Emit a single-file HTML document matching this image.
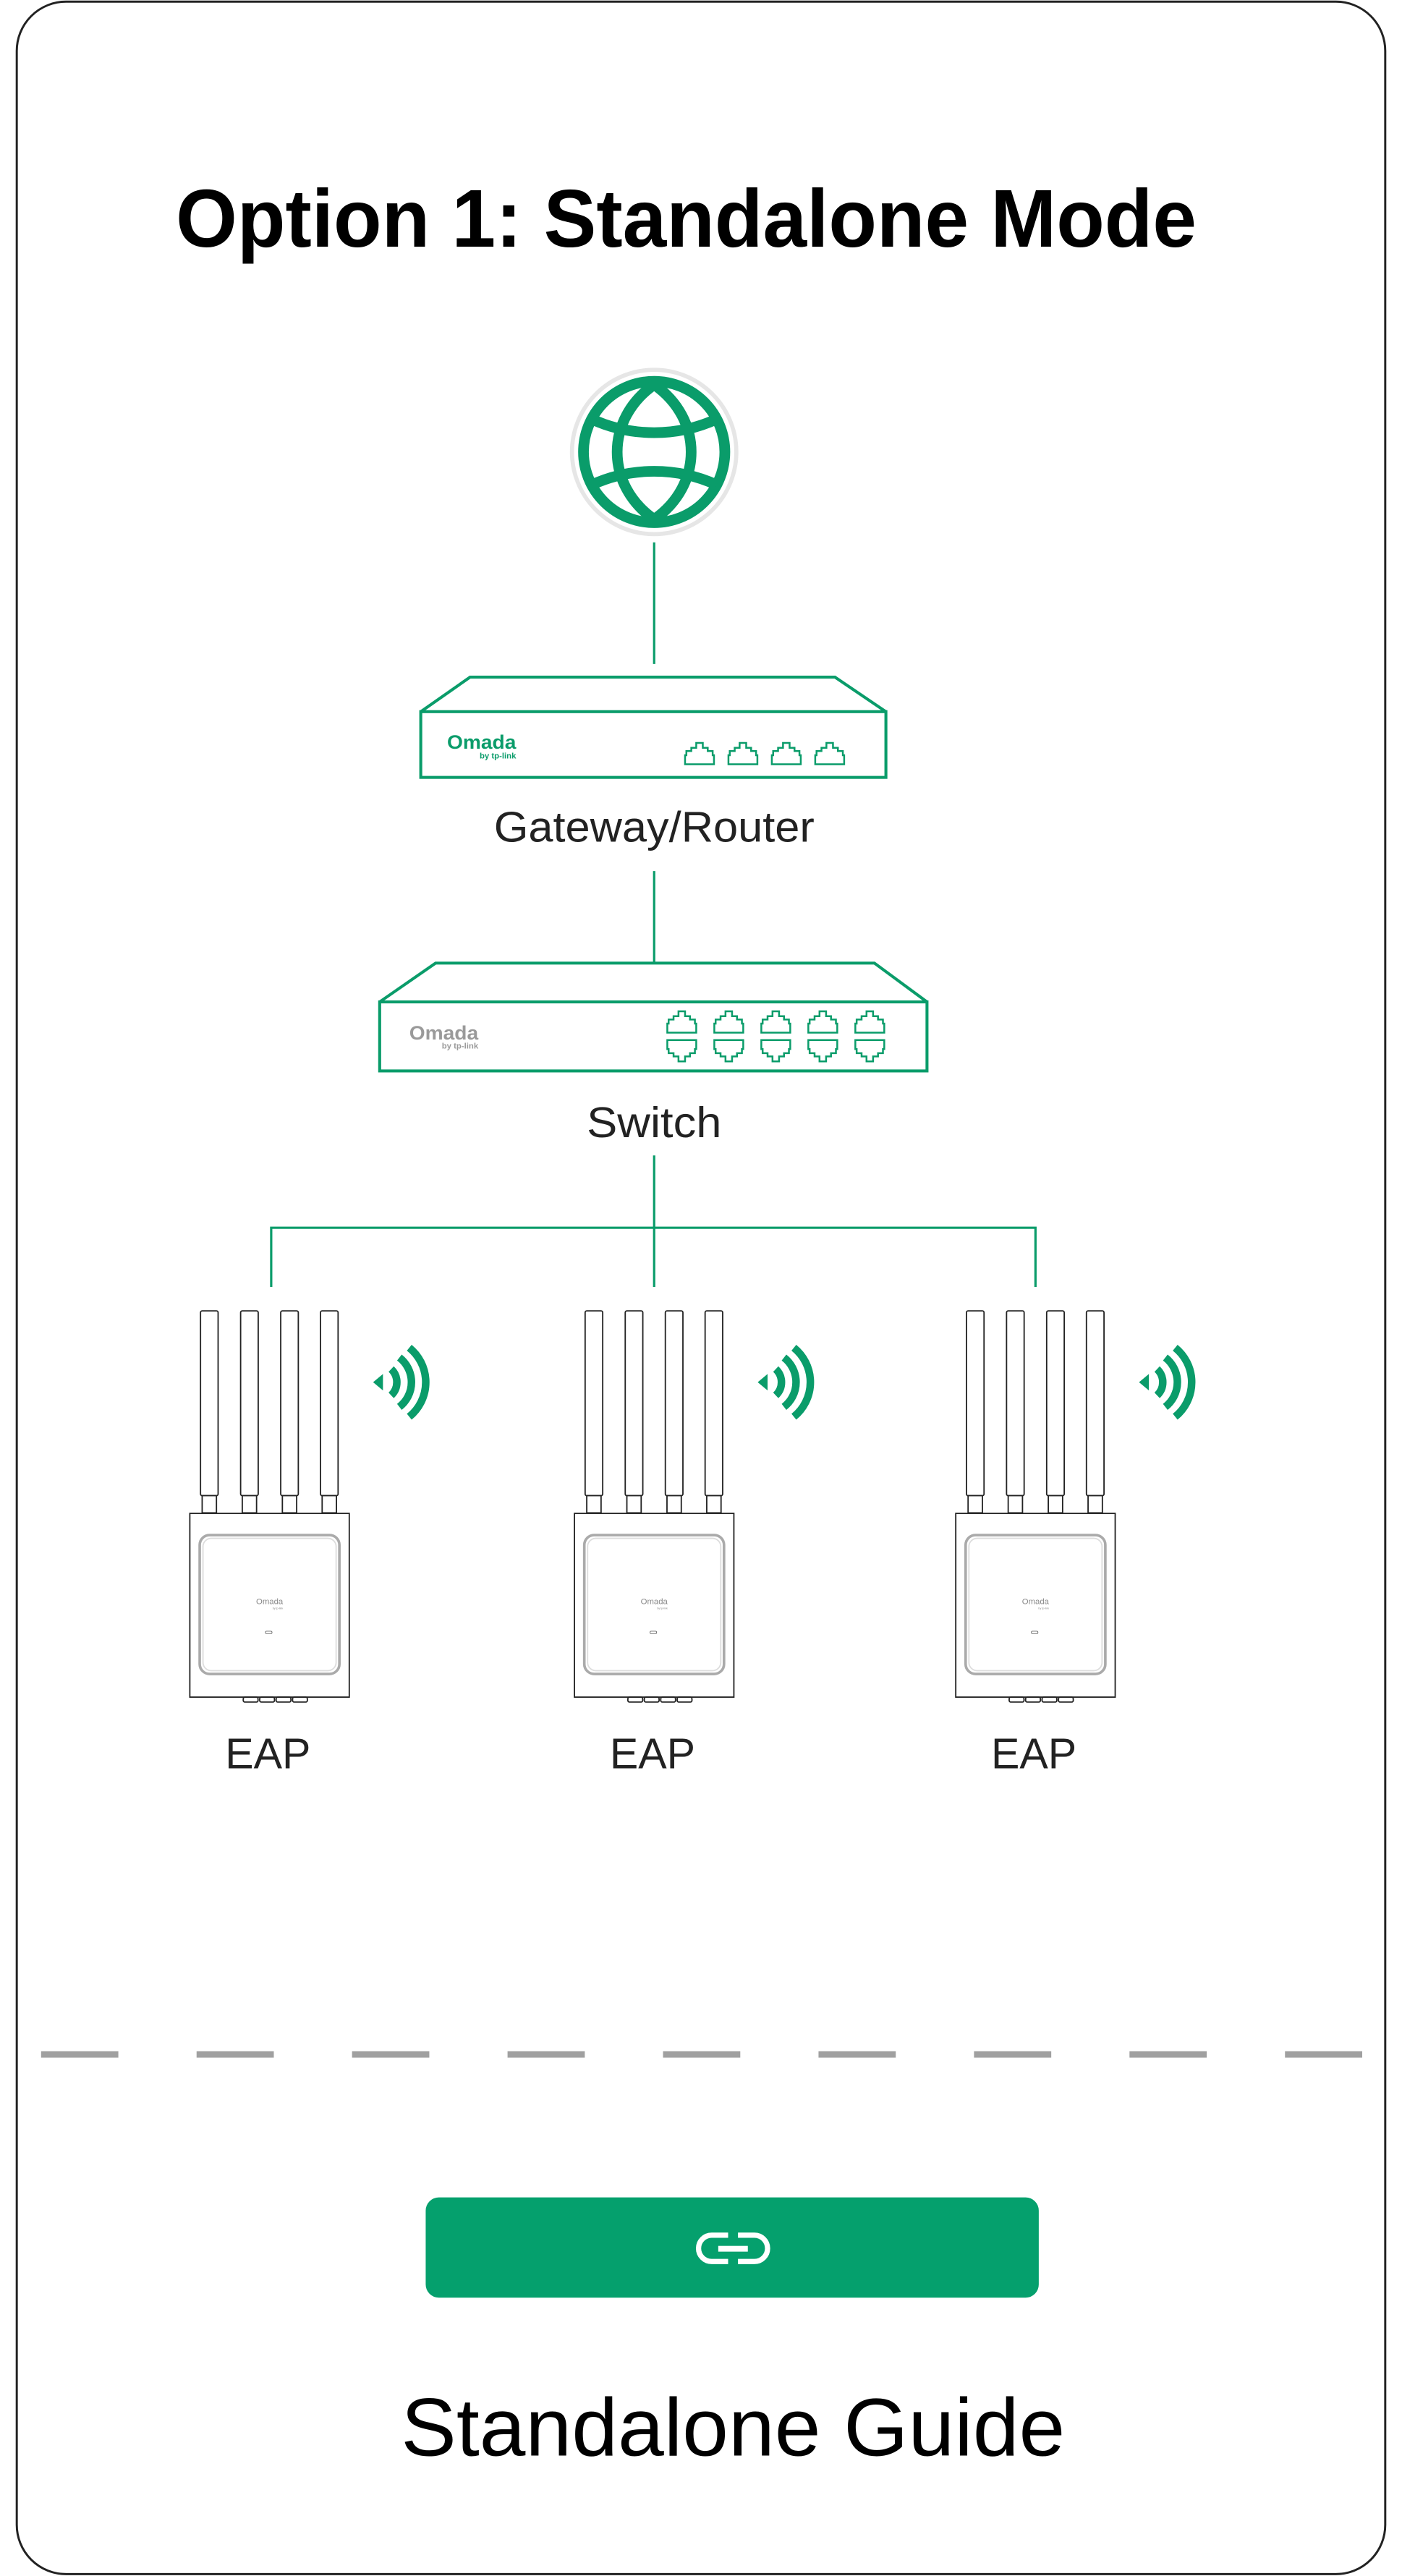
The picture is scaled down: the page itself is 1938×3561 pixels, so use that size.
<!DOCTYPE html>
<html><head><meta charset="utf-8"><style>
html,body{margin:0;padding:0;background:#fff}
svg{display:block}
</style></head><body>
<svg xmlns="http://www.w3.org/2000/svg" width="1938" height="3561" viewBox="0 0 853 1567.35">
<defs>
<path id="port" d="M0,13 V7.5 h0.8 V5 h3 V3 h3 V0 h4 V3 h3 V5 h3 V7.5 h0.8 V13 Z" fill="none" stroke="#0a9c6a" stroke-width="1.1"/>
<g id="eap">
  <g fill="#fff" stroke="#222" stroke-width="0.8">
    <rect x="-41" y="797.6" width="10.7" height="112.4" rx="1"/>
    <rect x="-16.6" y="797.6" width="10.7" height="112.4" rx="1"/>
    <rect x="7.8" y="797.6" width="10.7" height="112.4" rx="1"/>
    <rect x="32" y="797.6" width="10.7" height="112.4" rx="1"/>
    <rect x="-40" y="910" width="8.7" height="10.5"/>
    <rect x="-15.6" y="910" width="8.7" height="10.5"/>
    <rect x="8.8" y="910" width="8.7" height="10.5"/>
    <rect x="33" y="910" width="8.7" height="10.5"/>
    <rect x="-47.5" y="920.8" width="97" height="111.8"/>
    <rect x="-15" y="1032.6" width="9" height="3" rx="1"/>
    <rect x="-5" y="1032.6" width="9" height="3" rx="1"/>
    <rect x="5" y="1032.6" width="9" height="3" rx="1"/>
    <rect x="15" y="1032.6" width="9" height="3" rx="1"/>
  </g>
  <rect x="-41.5" y="934" width="85" height="84.5" rx="6" fill="none" stroke="#aaa" stroke-width="1.6"/>
  <rect x="-39.5" y="936" width="81" height="80.5" rx="5" fill="none" stroke="#ddd" stroke-width="0.8"/>
  <text x="1" y="976" font-family="Liberation Sans, sans-serif" font-size="5" fill="#888" text-anchor="middle">Omada</text>
  <text x="6" y="979" font-family="Liberation Sans, sans-serif" font-size="1.6" fill="#888" text-anchor="middle">by tp-link</text>
  <rect x="-1.5" y="992.5" width="4" height="1.5" rx="0.7" fill="none" stroke="#666" stroke-width="0.4"/>
</g>
<g id="wifi" fill="none" stroke="#0a9c6a" stroke-width="4.6">
  <path d="M238,833 a11,11 0 0 1 0,16"/>
  <path d="M243,826 a19,19 0 0 1 0,30"/>
  <path d="M249,820 a27,27 0 0 1 0,42"/>
  <path d="M227,841 l6,-5 v10 z" fill="#0a9c6a" stroke="none"/>
</g>
</defs>

<rect x="10.2" y="1" width="832.6" height="1565.2" rx="30" fill="#fff" stroke="#222" stroke-width="1.3"/>

<text x="107" y="150" font-family="Liberation Sans, sans-serif" font-weight="bold" font-size="50" fill="#000" textLength="621" lengthAdjust="spacingAndGlyphs">Option 1: Standalone Mode</text>

<!-- globe -->
<circle cx="398" cy="275" r="50" fill="#fff" stroke="#e6e6e6" stroke-width="2.5"/>
<g fill="none" stroke="#0a9c6a" stroke-width="6.5">
  <circle cx="398" cy="275" r="43"/>
  <path d="M398,234 C368,255 368,295 398,316 C428,295 428,255 398,234 Z"/>
  <path d="M360,255 C384,266 412,266 436,255"/>
  <path d="M360,295 C384,284 412,284 436,295"/>
</g>

<g stroke="#0a9c6a" stroke-width="1.4" fill="none">
  <line x1="398" y1="330" x2="398" y2="404"/>
  <line x1="398" y1="530" x2="398" y2="586"/>
  <line x1="398" y1="703" x2="398" y2="783"/>
  <polyline points="165,783 165,747 630,747 630,783"/>
</g>

<!-- router -->
<g fill="none" stroke="#0a9c6a" stroke-width="1.8">
  <path d="M256,433 L286,412 L508,412 L539,433"/>
  <rect x="256" y="433" width="283" height="40"/>
</g>
<text x="272" y="455.6" font-family="Liberation Sans, sans-serif" font-weight="bold" font-size="12" fill="#0a9c6a" textLength="42" lengthAdjust="spacingAndGlyphs">Omada</text>
<text x="314" y="461.5" font-family="Liberation Sans, sans-serif" font-weight="bold" font-size="5" fill="#0a9c6a" text-anchor="end">by tp-link</text>
<use href="#port" x="416.8" y="452"/>
<use href="#port" x="443.2" y="452"/>
<use href="#port" x="469.6" y="452"/>
<use href="#port" x="496" y="452"/>
<text x="398" y="512" font-family="Liberation Sans, sans-serif" font-size="26" fill="#222" text-anchor="middle" textLength="195" lengthAdjust="spacingAndGlyphs">Gateway/Router</text>

<!-- switch -->
<g fill="none" stroke="#0a9c6a" stroke-width="1.8">
  <path d="M231,609.6 L265,586 L532,586 L564,609.6"/>
  <rect x="231" y="609.6" width="333" height="42"/>
</g>
<text x="249" y="632.4" font-family="Liberation Sans, sans-serif" font-weight="bold" font-size="12" fill="#9a9a9a" textLength="42" lengthAdjust="spacingAndGlyphs">Omada</text>
<text x="291" y="638" font-family="Liberation Sans, sans-serif" font-weight="bold" font-size="5" fill="#9a9a9a" text-anchor="end">by tp-link</text>
<g>
  <use href="#port" x="406" y="615.3"/><use href="#port" x="434.6" y="615.3"/><use href="#port" x="463.2" y="615.3"/><use href="#port" x="491.8" y="615.3"/><use href="#port" x="520.4" y="615.3"/>
  <g transform="translate(0,1278.8) scale(1,-1)">
    <use href="#port" x="406" y="633"/><use href="#port" x="434.6" y="633"/><use href="#port" x="463.2" y="633"/><use href="#port" x="491.8" y="633"/><use href="#port" x="520.4" y="633"/>
  </g>
</g>
<text x="398" y="692" font-family="Liberation Sans, sans-serif" font-size="26" fill="#222" text-anchor="middle" textLength="82" lengthAdjust="spacingAndGlyphs">Switch</text>

<!-- EAPs -->
<use href="#eap" x="163" y="0"/>
<use href="#eap" x="397" y="0"/>
<use href="#eap" x="629" y="0"/>
<use href="#wifi" x="0" y="0"/>
<use href="#wifi" x="234" y="0"/>
<use href="#wifi" x="466" y="0"/>
<g font-family="Liberation Sans, sans-serif" font-size="26" fill="#222" text-anchor="middle">
  <text x="163" y="1076">EAP</text>
  <text x="397" y="1076">EAP</text>
  <text x="629" y="1076">EAP</text>
</g>

<line x1="25" y1="1250" x2="830" y2="1250" stroke="#a0a0a0" stroke-width="4" stroke-dasharray="47 47.6"/>

<!-- button -->
<rect x="259" y="1337" width="373" height="61" rx="8" fill="#05a06d"/>
<g fill="none" stroke="#fff" stroke-width="3.2">
  <path d="M443,1360 h-10 a8,8 0 0 0 0,16 h10"/>
  <path d="M449,1360 h10 a8,8 0 0 1 0,16 h-10"/>
</g>
<rect x="437" y="1366.5" width="18" height="3.5" fill="#fff"/>

<text x="446" y="1494" font-family="Liberation Sans, sans-serif" font-size="50" fill="#000" text-anchor="middle" textLength="404" lengthAdjust="spacingAndGlyphs">Standalone Guide</text>
</svg>
</body></html>
